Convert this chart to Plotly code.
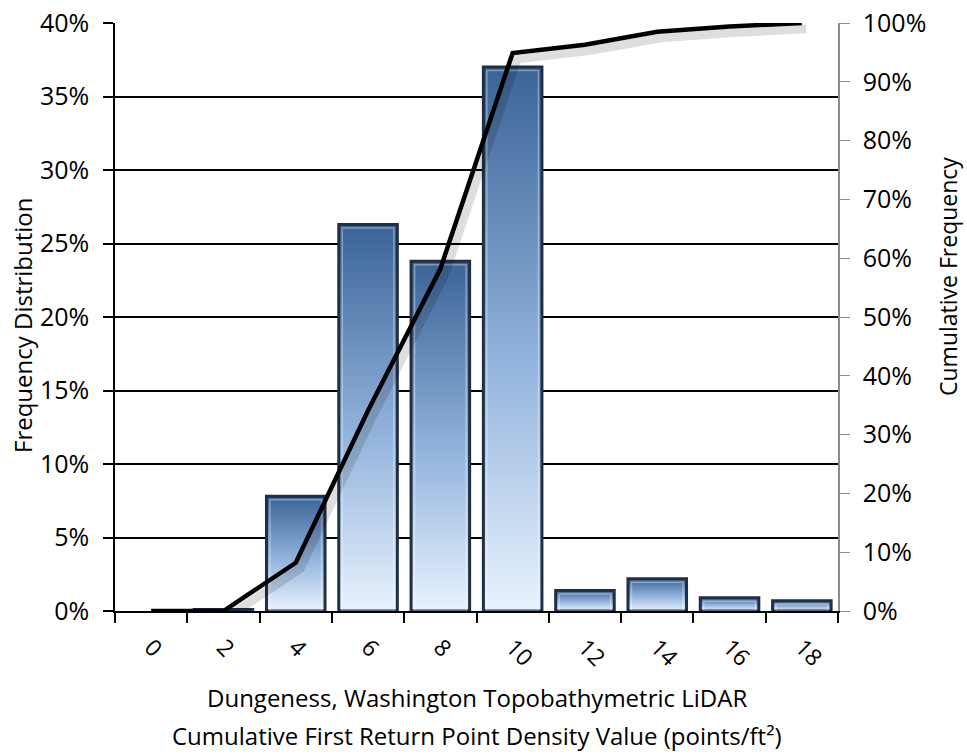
import plotly.graph_objects as go

# Point density bins (points/ft²) and their share of the survey area
density = [0, 2, 4, 6, 8, 10, 12, 14, 16, 18]
density_labels = ["0", "2", "4", "6", "8", "10", "12", "14", "16", "18"]
frequency_pct = [0.0, 0.1, 7.8, 26.3, 23.8, 37.0, 1.4, 2.2, 0.9, 0.7]
cumulative_pct = [0.0, 0.0, 8.2, 34.1, 58.2, 94.9, 96.3, 98.5, 99.4, 100.0]

BIN = 2.0
HALF_W = 0.81
FONT = "Open Sans"
BAR_SCALE = [[0.0, "#e8f2fd"], [0.45, "#93b4dc"], [1.0, "#3a6397"]]

W, H = 967, 755
M = dict(l=115, r=129, t=23, b=144)
PLOT_H = H - M["t"] - M["b"]
PLOT_W = W - M["l"] - M["r"]

fig = go.Figure()

x_range = [density[0] - BIN / 2, density[-1] + BIN / 2]
# bevel inset in data units (about 3.5 px)
inset_x = 3.5 * (x_range[1] - x_range[0]) / PLOT_W
inset_y = 3.5 * 40 / PLOT_H

# Gradient-filled bars: one filled polygon per bin so each gets its own gradient
for d, v in zip(density, frequency_pct):
    if v <= 0:
        continue
    fig.add_trace(go.Scatter(
        x=[d - HALF_W, d - HALF_W, d + HALF_W, d + HALF_W, d - HALF_W],
        y=[0, v, v, 0, 0],
        mode="lines", fill="toself",
        fillgradient=dict(type="vertical", colorscale=BAR_SCALE),
        line=dict(color="#1f2f45", width=3),
        hoverinfo="skip", showlegend=False,
        xaxis="x", yaxis="y",
    ))
    # light inner edge giving the bars a bevelled look
    if v > 2.5 * inset_y:
        fig.add_trace(go.Scatter(
            x=[d - HALF_W + inset_x, d - HALF_W + inset_x, d + HALF_W - inset_x,
               d + HALF_W - inset_x, d - HALF_W + inset_x],
            y=[0, v - inset_y, v - inset_y, 0, 0],
            mode="lines", line=dict(color="rgba(255,255,255,0.35)", width=1.5),
            hoverinfo="skip", showlegend=False,
            xaxis="x", yaxis="y",
        ))

# Soft drop shadow under the cumulative curve (same data, slightly shifted axes)
fig.add_trace(go.Scatter(
    x=density, y=cumulative_pct, mode="lines",
    line=dict(color="rgba(0,0,0,0.13)", width=9),
    hoverinfo="skip", showlegend=False,
    xaxis="x2", yaxis="y2",
))

# Cumulative frequency curve on the right-hand axis
fig.add_trace(go.Scatter(
    x=density, y=cumulative_pct, mode="lines",
    line=dict(color="black", width=4.5),
    showlegend=False,
    xaxis="x3", yaxis="y3",
))

boundaries = [d - BIN / 2 for d in density] + [density[-1] + BIN / 2]
shift_x = 0.12
shift_y = 1.0


def px_to_paper_y(py):
    return (H - M["b"] - py) / PLOT_H


def px_to_paper_x(px):
    return (px - M["l"]) / PLOT_W


fig.update_layout(
    width=W, height=H, autosize=False,
    margin=dict(M, autoexpand=False),
    paper_bgcolor="white", plot_bgcolor="white",
    font=dict(family=FONT, size=25, color="black"),
    xaxis=dict(
        range=x_range, tickmode="array", tickvals=density, ticktext=density_labels,
        tickangle=45, ticks="", showgrid=False, zeroline=False, automargin=False,
        showline=True, linecolor="black", linewidth=1.5,
        tickfont=dict(size=23), ticklabelstandoff=12,
        minor=dict(tickmode="array", tickvals=boundaries, ticks="outside",
                   ticklen=10, tickcolor="black", tickwidth=1.5, showgrid=False),
    ),
    yaxis=dict(
        range=[0, 40], dtick=5, ticksuffix="%", ticks="outside", ticklen=10,
        tickcolor="black", tickwidth=1.5, ticklabelstandoff=9, automargin=False,
        showgrid=True, gridcolor="black", gridwidth=1.5, zeroline=False,
        showline=True, linecolor="black", linewidth=1.5,
    ),
    xaxis2=dict(range=[x_range[0] - shift_x, x_range[1] - shift_x],
                overlaying="x", anchor="y2", visible=False),
    yaxis2=dict(range=[shift_y, 100 + shift_y], overlaying="y", anchor="x2",
                visible=False),
    xaxis3=dict(range=x_range, overlaying="x", anchor="y3", visible=False),
    yaxis3=dict(
        range=[0, 100], dtick=10, ticksuffix="%", side="right", overlaying="y",
        anchor="x3", ticks="outside", ticklen=10, tickcolor="#8c8c8c",
        ticklabelstandoff=8, automargin=False,
        showgrid=False, zeroline=False,
        showline=True, linecolor="#8c8c8c", linewidth=1.5,
    ),
    annotations=[
        dict(text="Frequency Distribution", textangle=-90, showarrow=False,
             xref="paper", yref="paper", x=px_to_paper_x(22), y=px_to_paper_y(325),
             xanchor="center", yanchor="middle", font=dict(size=24)),
        dict(text="Cumulative Frequency", textangle=-90, showarrow=False,
             xref="paper", yref="paper", x=px_to_paper_x(948), y=px_to_paper_y(276),
             xanchor="center", yanchor="middle", font=dict(size=23)),
        dict(text="Dungeness, Washington Topobathymetric LiDAR", showarrow=False,
             xref="paper", yref="paper", x=px_to_paper_x(477), y=px_to_paper_y(697),
             xanchor="center", yanchor="middle", font=dict(size=24)),
        dict(text="Cumulative First Return Point Density Value (points/ft²)",
             showarrow=False,
             xref="paper", yref="paper", x=px_to_paper_x(477), y=px_to_paper_y(735),
             xanchor="center", yanchor="middle", font=dict(size=24)),
    ],
)

fig.write_html("out.html")
